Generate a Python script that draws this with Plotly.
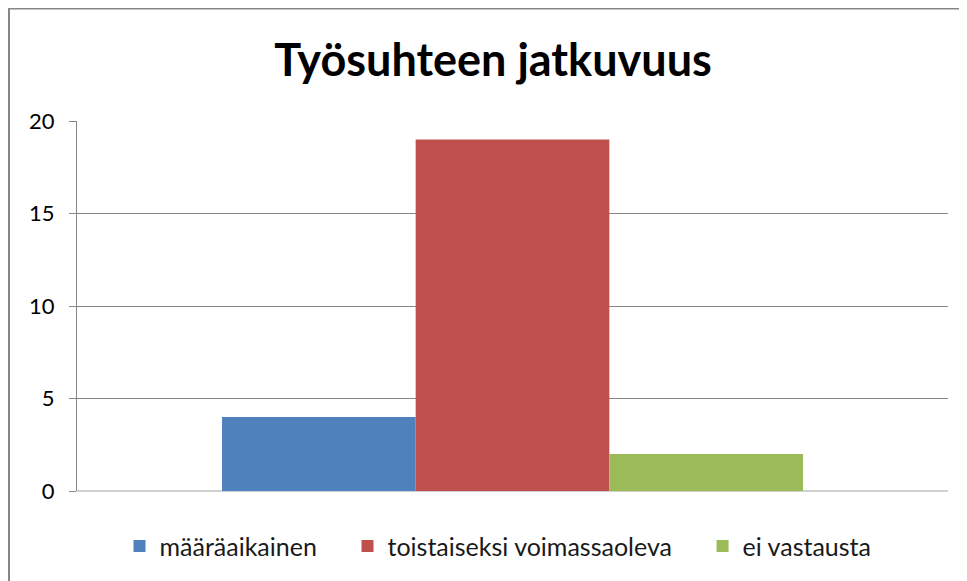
import plotly.graph_objects as go

categories = [""]
series_names = ["määräaikainen", "toistaiseksi voimassaoleva", "ei vastausta"]
series_values = [[4], [19], [2]]
colors = ["#4F81BD", "#C0504D", "#9BBB59"]
y_ticks = [0, 5, 10, 15, 20]

pad = "\u00a0" * 4
fig = go.Figure()
for i, (name, vals, c) in enumerate(zip(series_names, series_values, colors)):
    label = name + (pad if i < len(series_names) - 1 else "")
    fig.add_trace(go.Bar(x=categories, y=vals, name=label, marker=dict(color=c, line=dict(width=0))))

fig.update_layout(
    width=959, height=573,
    margin=dict(l=69, r=19, t=113, b=90),
    paper_bgcolor="white", plot_bgcolor="white",
    barmode="group", bargap=0.333, bargroupgap=0,
    font=dict(family="Lato, Liberation Sans, sans-serif", color="#000000"),
    title=dict(text="<b>Työsuhteen jatkuvuus</b>", x=485 / 959, xanchor="center", y=1 - 52 / 573,
               yanchor="middle", yref="container", font=dict(size=45, color="#000000")),
    showlegend=True,
    legend=dict(orientation="h", x=(498 - 77) / 871, xanchor="center", y=-0.149, yanchor="middle",
                font=dict(size=25, color="#1a1a1a"), itemwidth=30, traceorder="normal"),
    xaxis=dict(showgrid=False, showline=False, zeroline=False, showticklabels=False, ticks=""),
    yaxis=dict(range=[0, 20], tickvals=y_ticks, showgrid=True, gridcolor="#868686", gridwidth=1,
               showline=True, linecolor="#868686", linewidth=1, ticks="outside", ticklen=7,
               tickcolor="#868686", zeroline=True, zerolinecolor="#d0d0d0", zerolinewidth=2,
               tickfont=dict(size=22, color="#000000"), ticklabelstandoff=10),
    shapes=[dict(type="rect", xref="paper", yref="paper", x0=(1 - 69) / 871, x1=1.2,
                 y0=-0.5, y1=(483 - 0.5) / 370, line=dict(color="#868686", width=2),
                 fillcolor="rgba(0,0,0,0)", layer="below")],
)

fig.write_html("out.html")
